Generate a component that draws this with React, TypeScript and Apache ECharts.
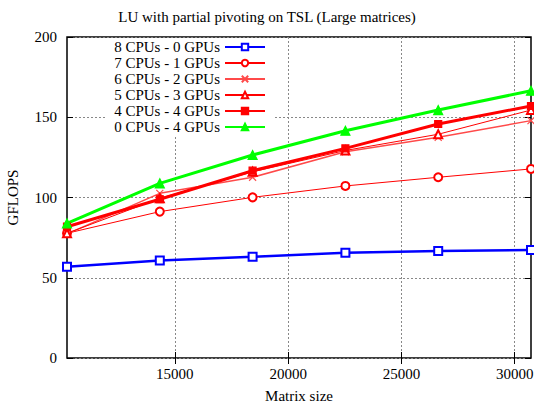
import React, { useEffect, useRef } from "react";
import * as echarts from "echarts";

const sizes = [10240, 14336, 18432, 22528, 26624, 30720];
const cpu8gpu0 = [56.9, 60.8, 63.1, 65.6, 66.7, 67.3];
const cpu7gpu1 = [77.7, 91.2, 100.1, 107.2, 112.6, 117.8];
const cpu6gpu2 = [77.3, 102.6, 112.6, 128.5, 137.5, 147.9];
const cpu5gpu3 = [77.7, 99.5, 116.0, 129.3, 139.4, 154.5];
const cpu4gpu4 = [81.8, 98.9, 116.7, 130.6, 145.8, 157.0];
const cpu0gpu4 = [83.9, 108.8, 126.5, 141.6, 154.5, 166.5];
const xTicks = [15000, 20000, 25000, 30000];
const seriesNames = [
  "8 CPUs - 0 GPUs",
  "7 CPUs - 1 GPUs",
  "6 CPUs - 2 GPUs",
  "5 CPUs - 3 GPUs",
  "4 CPUs - 4 GPUs",
  "0 CPUs - 4 GPUs",
];

const FONT = "'Liberation Serif', 'Times New Roman', serif";

export default function App() {
  const ref = useRef<HTMLDivElement>(null);
  useEffect(() => {
    const chart = echarts.init(ref.current!, null, { renderer: "svg" });
    const pts = (vals: number[]) => sizes.map((s, i) => [s, vals[i]]);
    const mk = (
      name: string,
      vals: number[],
      color: string,
      width: number,
      symbol: string,
      symbolSize: number,
      borderWidth = 1.2,
      z = 2
    ) => ({
      name,
      type: "line",
      data: pts(vals),
      symbol,
      symbolSize,
      showAllSymbol: true,
      lineStyle: { color, width },
      itemStyle: { color, borderColor: color, borderWidth },
      emphasis: { disabled: true },
      z,
    });
    const crossPath = "path://M0,0L10,10M10,0L0,10";
    const txt = { fontFamily: FONT, fontSize: 15, color: "#000" };
    chart.setOption({
      animation: false,
      textStyle: { fontFamily: FONT },
      title: {
        text: "LU with partial pivoting on TSL (Large matrices)",
        left: "center",
        top: 4,
        textStyle: { ...txt, fontWeight: "normal" },
      },
      legend: {
        orient: "vertical",
        align: "right",
        right: 259,
        top: 38,
        padding: [1, 9, 2, 9],
        itemGap: 0,
        itemWidth: 40,
        itemHeight: 8,
        backgroundColor: "#fff",
        textStyle: { ...txt, lineHeight: 16 },
        data: seriesNames,
      },
      grid: {
        left: 67,
        right: 3,
        top: 37,
        bottom: 45,
        outerBoundsMode: "none",
        containLabel: false,
        show: true,
        borderColor: "#000",
        borderWidth: 1.5,
        backgroundColor: "transparent",
      },
      xAxis: [
        {
          type: "value",
          min: sizes[0],
          max: sizes[sizes.length - 1],
          name: "Matrix size",
          nameLocation: "middle",
          nameGap: 30,
          nameTextStyle: txt,
          axisLine: { show: false },
          axisTick: { show: true, inside: true, length: 6, customValues: xTicks, lineStyle: { color: "#000" } },
          axisLabel: { ...txt, customValues: xTicks, margin: 8, formatter: (v: number) => String(v) },
          splitLine: { show: true, lineStyle: { color: "#888", type: [2, 2], width: 1 } },
        },
        {
          type: "value",
          position: "top",
          min: sizes[0],
          max: sizes[sizes.length - 1],
          axisLine: { show: false },
          axisTick: { show: true, inside: true, length: 6, customValues: xTicks, lineStyle: { color: "#000" } },
          axisLabel: { show: false },
          splitLine: { show: false },
        },
      ],
      yAxis: [
        {
          type: "value",
          min: 0,
          max: 200,
          interval: 50,
          name: "GFLOPS",
          nameLocation: "middle",
          nameRotate: 90,
          nameGap: 47,
          nameTextStyle: txt,
          axisLine: { show: false },
          axisTick: { show: true, inside: true, length: 6, lineStyle: { color: "#000" } },
          axisLabel: { ...txt, margin: 10, formatter: (v: number) => String(v) },
          splitLine: { show: true, lineStyle: { color: "#888", type: [2, 2], width: 1 } },
        },
        {
          type: "value",
          position: "right",
          min: 0,
          max: 200,
          interval: 50,
          axisLine: { show: false },
          axisTick: { show: true, inside: true, length: 6, lineStyle: { color: "#000" } },
          axisLabel: { show: false },
          splitLine: { show: false },
        },
      ],
      series: [
        mk(seriesNames[0], cpu8gpu0, "#0000ff", 2.5, "emptyRect", 8, 2),
        mk(seriesNames[1], cpu7gpu1, "#ff0000", 1, "emptyCircle", 8),
        mk(seriesNames[2], cpu6gpu2, "#ff4a4a", 1.5, crossPath, 7),
        mk(seriesNames[3], cpu5gpu3, "#ff0000", 1, "emptyTriangle", 8),
        mk(seriesNames[4], cpu4gpu4, "#ff0000", 3, "rect", 7),
        mk(seriesNames[5], cpu0gpu4, "#00ff00", 3, "triangle", 9),
      ],
    });
    return () => chart.dispose();
  }, []);
  return <div ref={ref} style={{ width: 534, height: 403, position: "absolute", left: 0, top: 0, background: "#fff" }} />;
}
